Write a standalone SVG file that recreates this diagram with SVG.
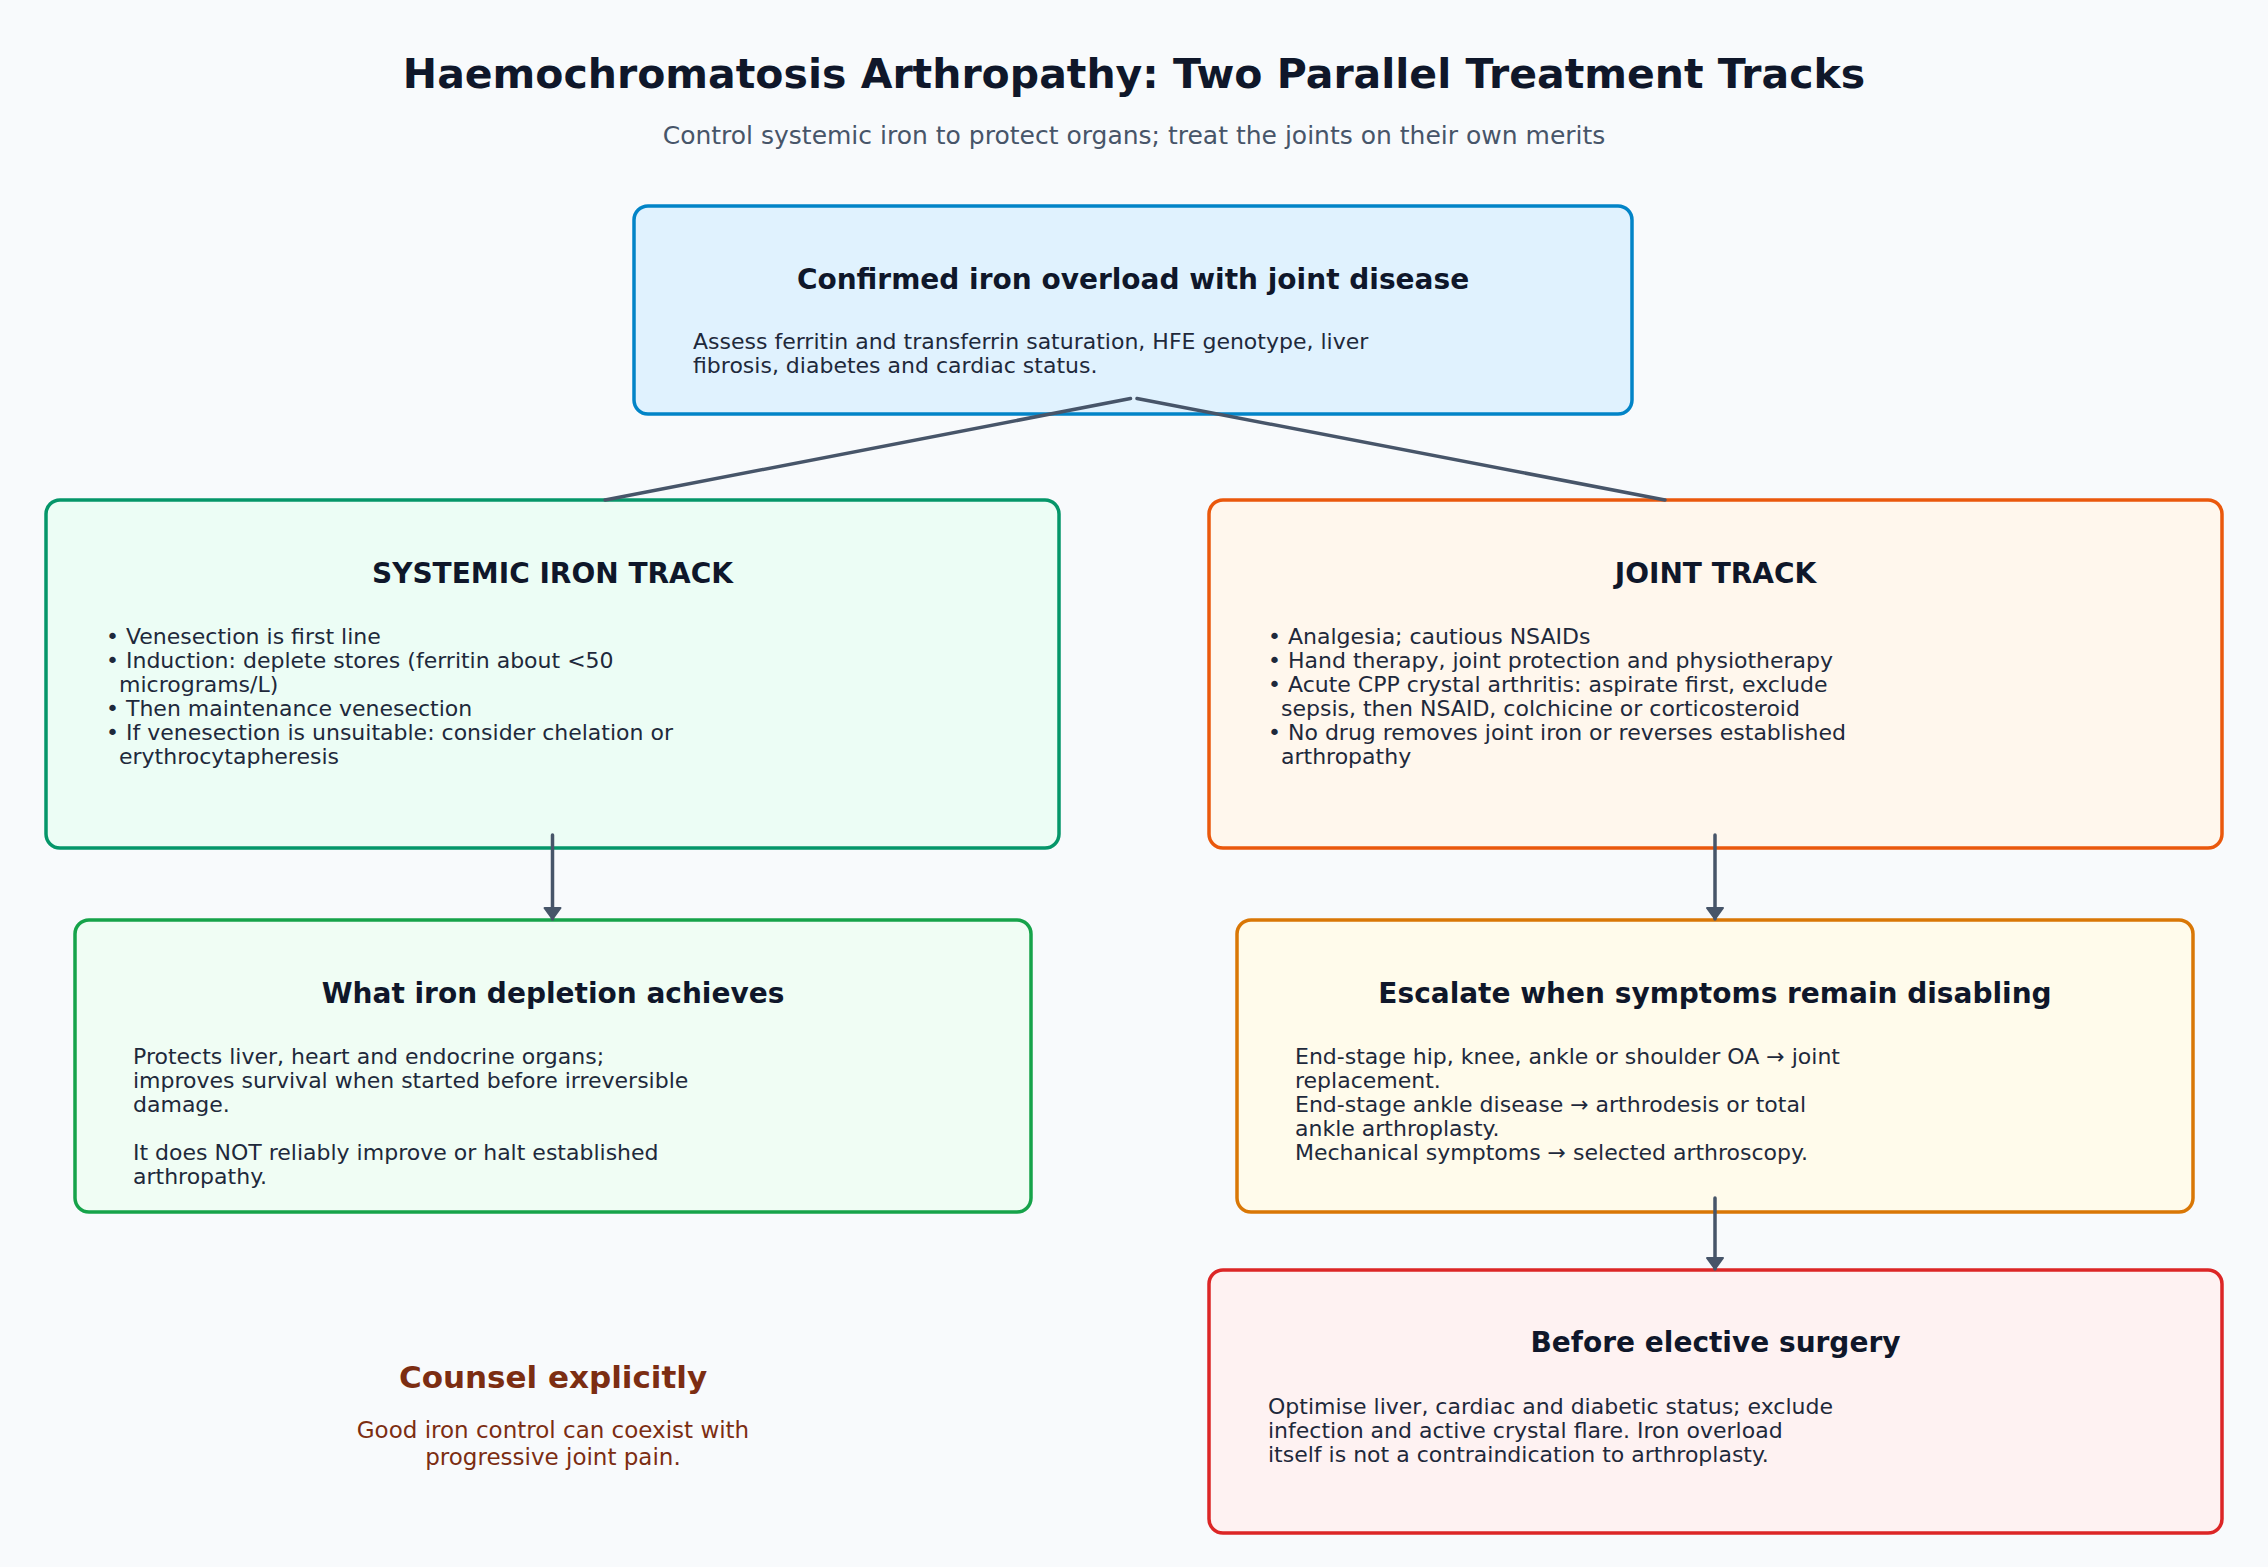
<svg xmlns="http://www.w3.org/2000/svg" width="2268" height="1567" viewBox="0 0 2268 1567">
<defs>
<marker id="arr" viewBox="0 0 14 20" refX="12.5" refY="10" markerWidth="14" markerHeight="20" orient="auto" markerUnits="userSpaceOnUse">
<path d="M1.5,2 L12.5,10 L1.5,18 Z" fill="#475569" stroke="#475569" stroke-width="2" stroke-linejoin="round"/>
</marker>
<style>
text{font-family:"DejaVu Sans","Liberation Sans",sans-serif;}
.ttl{font-size:41px;font-weight:bold;fill:#0f172a;text-anchor:middle;}
.sub{font-size:25px;fill:#475569;text-anchor:middle;}
.nt{font-size:28px;font-weight:bold;fill:#0f172a;text-anchor:middle;}
.bd{font-size:22px;fill:#1e293b;}
.box{stroke-width:3.5;}
.conn{stroke:#475569;stroke-width:3.5;fill:none;stroke-linecap:round;}
.cn{fill:#7c2d12;text-anchor:middle;}
</style>
</defs>
<rect width="2268" height="1567" fill="#f8fafc"/>
<text class="ttl" x="1134" y="88">Haemochromatosis Arthropathy: Two Parallel Treatment Tracks</text>
<text class="sub" x="1134" y="144">Control systemic iron to protect organs; treat the joints on their own merits</text>

<g id="node-confirmed">
<rect class="box" x="634" y="206" width="998" height="208" rx="14" fill="#e0f2fe" stroke="#0284c7"/>
<text class="nt" x="1133" y="289">Confirmed iron overload with joint disease</text>
<text class="bd" x="693" y="349">Assess ferritin and transferrin saturation, HFE genotype, liver</text>
<text class="bd" x="693" y="373">fibrosis, diabetes and cardiac status.</text>
</g>

<g id="node-systemic">
<rect class="box" x="46" y="500" width="1013" height="348" rx="14" fill="#ecfdf5" stroke="#059669"/>
<text class="nt" x="552.5" y="583">SYSTEMIC IRON TRACK</text>
<text class="bd" x="106" y="644">• Venesection is first line</text>
<text class="bd" x="106" y="668">• Induction: deplete stores (ferritin about &lt;50</text>
<text class="bd" x="119" y="692">micrograms/L)</text>
<text class="bd" x="106" y="716">• Then maintenance venesection</text>
<text class="bd" x="106" y="740">• If venesection is unsuitable: consider chelation or</text>
<text class="bd" x="119" y="764">erythrocytapheresis</text>
</g>

<g id="node-joint">
<rect class="box" x="1209" y="500" width="1013" height="348" rx="14" fill="#fff7ed" stroke="#ea580c"/>
<text class="nt" x="1715.5" y="583">JOINT TRACK</text>
<text class="bd" x="1268" y="644">• Analgesia; cautious NSAIDs</text>
<text class="bd" x="1268" y="668">• Hand therapy, joint protection and physiotherapy</text>
<text class="bd" x="1268" y="692">• Acute CPP crystal arthritis: aspirate first, exclude</text>
<text class="bd" x="1281" y="716">sepsis, then NSAID, colchicine or corticosteroid</text>
<text class="bd" x="1268" y="740">• No drug removes joint iron or reverses established</text>
<text class="bd" x="1281" y="764">arthropathy</text>
</g>

<g id="node-depletion">
<rect class="box" x="75" y="920" width="956" height="292" rx="14" fill="#f0fdf4" stroke="#16a34a"/>
<text class="nt" x="553" y="1003">What iron depletion achieves</text>
<text class="bd" x="133" y="1064">Protects liver, heart and endocrine organs;</text>
<text class="bd" x="133" y="1088">improves survival when started before irreversible</text>
<text class="bd" x="133" y="1112">damage.</text>
<text class="bd" x="133" y="1160">It does NOT reliably improve or halt established</text>
<text class="bd" x="133" y="1184">arthropathy.</text>
</g>

<g id="node-escalate">
<rect class="box" x="1237" y="920" width="956" height="292" rx="14" fill="#fffbeb" stroke="#d97706"/>
<text class="nt" x="1715" y="1003">Escalate when symptoms remain disabling</text>
<text class="bd" x="1295" y="1064">End-stage hip, knee, ankle or shoulder OA → joint</text>
<text class="bd" x="1295" y="1088">replacement.</text>
<text class="bd" x="1295" y="1112">End-stage ankle disease → arthrodesis or total</text>
<text class="bd" x="1295" y="1136">ankle arthroplasty.</text>
<text class="bd" x="1295" y="1160">Mechanical symptoms → selected arthroscopy.</text>
</g>

<g id="node-surgery">
<rect class="box" x="1209" y="1270" width="1013" height="263" rx="14" fill="#fef2f2" stroke="#dc2626"/>
<text class="nt" x="1715.5" y="1352">Before elective surgery</text>
<text class="bd" x="1268" y="1414">Optimise liver, cardiac and diabetic status; exclude</text>
<text class="bd" x="1268" y="1438">infection and active crystal flare. Iron overload</text>
<text class="bd" x="1268" y="1462">itself is not a contraindication to arthroplasty.</text>
</g>

<g id="node-counsel">
<text class="cn" x="553" y="1388" style="font-size:31px;font-weight:bold">Counsel explicitly</text>
<text class="cn" x="553" y="1438" style="font-size:23px">Good iron control can coexist with</text>
<text class="cn" x="553" y="1465" style="font-size:23px">progressive joint pain.</text>
</g>

<g id="connectors">
<line class="conn" x1="1130.5" y1="398.5" x2="605" y2="500"/>
<line class="conn" x1="1137" y1="398.5" x2="1665" y2="500"/>
<line class="conn" x1="552.5" y1="835" x2="552.5" y2="919" marker-end="url(#arr)"/>
<line class="conn" x1="1715" y1="835" x2="1715" y2="919" marker-end="url(#arr)"/>
<line class="conn" x1="1715" y1="1198" x2="1715" y2="1269" marker-end="url(#arr)"/>
</g>
</svg>
